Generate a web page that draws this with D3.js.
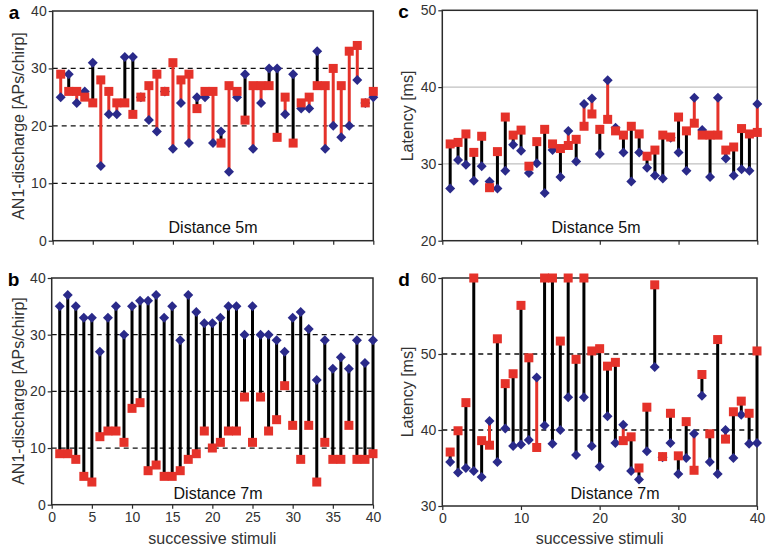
<!DOCTYPE html>
<html><head><meta charset="utf-8">
<script src="https://cdn.jsdelivr.net/npm/d3@7"></script>
<style>
html,body{margin:0;padding:0;background:#fff;}
svg{display:block;font-family:"Liberation Sans",Arial,Helvetica,sans-serif;}
</style></head>
<body>
<svg id="chart" width="770" height="549"></svg>
<script>
// ---------------- DATA ----------------
const stimuli = [1,2,3,4,5,6,7,8,9,10,11,12,13,14,15,16,17,18,19,20,21,22,23,24,25,26,27,28,29,30,31,32,33,34,35,36,37,38,39,40];

// a: AN1 discharge, distance 5m
const a_blue = [25,29,24,26,31,13,22,22,32,32,25,21,19,26,16,24,17,25,25,17,19,12,25,29,16,24,30,30,22,29,23,23,33,16,20,18,20,28,24,25];
const a_red  = [29,26,26,25,24,28,26,24,24,22,25,27,29,26,31,28,29,23,26,26,17,27,26,21,27,27,27,18,25,17,24,25,27,27,30,27,33,34,24,26];

// b: AN1 discharge, distance 7m
const b_blue = [35,37,35,33,33,27,33,35,30,35,36,36,37,33,35,29,37,34,32,32,33,35,35,30,35,30,30,29,27,33,34,31,22,29,24,26,24,29,25,29];
const b_red  = [9,9,8,5,4,12,13,13,11,17,18,6,7,5,5,6,8,9,13,10,11,13,13,19,11,19,13,15,21,14,8,14,4,11,8,8,14,8,8,9];

// c: latency, distance 5m
const c_blue = [26.8,30.5,29.9,27.8,29.7,27.7,26.8,29.1,32.5,31.7,28.8,30.1,26.2,31.8,28.3,34.3,30.3,37.8,38.5,31.3,40.9,34.7,31.5,27.7,31.5,29.5,28.5,28.1,33.4,31.5,29.1,38.6,34.4,28.3,38.6,30.7,28.5,29.3,29.1,37.8];
const c_red  = [32.6,32.8,33.9,31.5,33.6,26.9,31.6,36.1,33.75,34.4,29.7,32.9,34.5,32.6,32.0,32.4,33.2,34.9,36.5,34.5,35.8,34.3,33.75,34.9,33.9,31.0,31.8,33.75,33.5,36.1,34.3,35.3,33.75,33.75,33.75,31.8,32.2,34.6,33.9,34.1];

// d: latency, distance 7m
const d_blue = [35.8,34.4,35.0,34.6,33.8,41.2,35.8,40.2,37.9,38.1,38.7,46.9,40.6,38.2,40.0,44.3,36.7,44.3,37.9,35.2,41.8,38.3,40.7,34.6,33.5,37.2,48.3,36.4,38.3,34.2,36.3,39.5,44.5,35.8,34.2,40.0,36.3,42.0,38.2,38.3];
const d_red  = [37.1,39.9,43.6,60,38.6,38.0,52.0,46.1,47.4,56.4,49.5,37.7,60,60,51.7,60,49.3,60,50.4,50.7,48.4,48.9,38.6,39.1,35.0,43.0,59.1,36.5,42.2,36.6,41.1,34.7,47.3,39.5,51.9,38.8,42.4,43.8,42.2,50.4];

// axis ticks / labels
const xDomain = [0,40];
const discharge_yTicks = [0,10,20,30,40];
const latency5_yTicks = [20,30,40,50];
const latency7_yTicks = [30,40,50,60];
const xTicks_b = [0,5,10,15,20,25,30,35,40];
const xTicks_d = [0,10,20,30,40];
const dischargeLabel = "AN1-discharge [APs/chirp]";
const latencyLabel = "Latency [ms]";
const xLabel = "successive stimuli";

// ---------------- DRAW ----------------
const RED = "#e5322a", BLUE = "#2a2a8a", AX = "#2b2b2b", TXT = "#333";
const svg = d3.select("#chart");

const panels = [
  {id:"a", blue:a_blue, red:a_red, box:[52.7,11,373.3,240.7], y:[0,40], yt:discharge_yTicks, xt:xTicks_b, xLabels:false,
   grid:"dash", gridVals:[10,20,30], ylab:dischargeLabel, ylx:18, yly:126, dist:"Distance 5m", dx:213, dy:233, redWhenRedHigher:true},
  {id:"b", blue:b_blue, red:b_red, box:[51.7,278,373,504.7], y:[0,40], yt:discharge_yTicks, xt:xTicks_b, xLabels:true,
   grid:"dash", gridVals:[10,20,30], ylab:dischargeLabel, ylx:18, yly:391, dist:"Distance 7m", dx:218, dy:499, redWhenRedHigher:true},
  {id:"c", blue:c_blue, red:c_red, box:[442.3,10.3,757.3,240.7], y:[20,50], yt:latency5_yTicks, xt:xTicks_d, xLabels:false,
   grid:"solid", gridVals:[30,40], ylab:latencyLabel, ylx:407, yly:116, dist:"Distance 5m", dx:596, dy:233, redWhenRedHigher:false},
  {id:"d", blue:d_blue, red:d_red, box:[442.3,278,757,506], y:[30,60], yt:latency7_yTicks, xt:xTicks_d, xLabels:true,
   grid:"dash", gridVals:[40,50], ylab:latencyLabel, ylx:407, yly:392, dist:"Distance 7m", dx:615, dy:499, redWhenRedHigher:false}
];

panels.forEach(p => {
  const [x0,y0,x1,y1] = p.box;
  const x = d3.scaleLinear().domain(xDomain).range([x0,x1]);
  const y = d3.scaleLinear().domain(p.y).range([y1,y0]);
  const g = svg.append("g");

  // grid lines
  g.selectAll("line.grid").data(p.gridVals).join("line")
    .attr("x1",x0).attr("x2",x1).attr("y1",d=>y(d)).attr("y2",d=>y(d))
    .attr("stroke", p.grid==="dash" ? "#111" : "#b0b0b0")
    .attr("stroke-width", p.grid==="dash" ? 1.3 : 1)
    .attr("stroke-dasharray", p.grid==="dash" ? "5,4" : null);

  // frame
  g.append("rect").attr("x",x0).attr("y",y0).attr("width",x1-x0).attr("height",y1-y0)
    .attr("fill","none").attr("stroke",AX).attr("stroke-width",1.5);

  // y axis
  const yAx = g.append("g").attr("transform",`translate(${x0},0)`)
    .call(d3.axisLeft(y).tickValues(p.yt).tickSize(4).tickPadding(2).tickFormat(d3.format("d")));
  yAx.select(".domain").remove();
  yAx.selectAll("line").attr("stroke",AX).attr("stroke-width",1.2);
  yAx.selectAll("text").attr("font-size",14).attr("fill",TXT).attr("font-family","Liberation Sans, Arial, sans-serif");

  // x axis
  const xAx = g.append("g").attr("transform",`translate(0,${y1})`)
    .call(d3.axisBottom(x).tickValues(p.xt).tickSize(4).tickPadding(3).tickFormat(p.xLabels ? d3.format("d") : ""));
  xAx.select(".domain").remove();
  xAx.selectAll("line").attr("stroke",AX).attr("stroke-width",1.2);
  xAx.selectAll("text").attr("font-size",14).attr("fill",TXT).attr("font-family","Liberation Sans, Arial, sans-serif");

  // data pairs
  const pts = stimuli.map((s,i)=>({s, b:p.blue[i], r:p.red[i]}));
  const lineCol = d => {
    const redHigh = d.r > d.b;
    return (p.redWhenRedHigher ? redHigh : !redHigh) ? RED : "#000";
  };
  g.selectAll("line.pair").data(pts).join("line")
    .attr("x1",d=>x(d.s)).attr("x2",d=>x(d.s))
    .attr("y1",d=>y(d.b)).attr("y2",d=>y(d.r))
    .attr("stroke",lineCol).attr("stroke-width",3);

  // diamonds: square rotated 45°
  const dia = d3.symbol().type(d3.symbolSquare).size(50);
  g.selectAll("path.blue").data(pts).join("path")
    .attr("d",dia).attr("transform",d=>`translate(${x(d.s)},${y(d.b)}) rotate(45)`)
    .attr("fill",BLUE);
  g.selectAll("rect.red").data(pts).join("rect")
    .attr("x",d=>x(d.s)-4.5).attr("y",d=>y(d.r)-4.5).attr("width",9).attr("height",9)
    .attr("fill",RED);

  // panel letter
  g.append("text").attr("x",x0-44).attr("y",y0+8).text(p.id)
    .attr("font-size",19).attr("font-weight","bold").attr("fill","#000");

  // y label
  g.append("text").attr("transform",`translate(${p.ylx},${p.yly}) rotate(-90)`)
    .attr("text-anchor","middle").attr("dominant-baseline","central")
    .attr("font-size",16).attr("fill",TXT).text(p.ylab);

  // distance label
  g.append("text").attr("x",p.dx).attr("y",p.dy).attr("text-anchor","middle")
    .attr("font-size",16).attr("fill","#111").text(p.dist);

  // x label
  if (p.xLabels) {
    g.append("text").attr("x",(x0+x1)/2).attr("y",544).attr("text-anchor","middle")
      .attr("font-size",16).attr("fill",TXT).text(xLabel);
  }
});
</script>
</body></html>
